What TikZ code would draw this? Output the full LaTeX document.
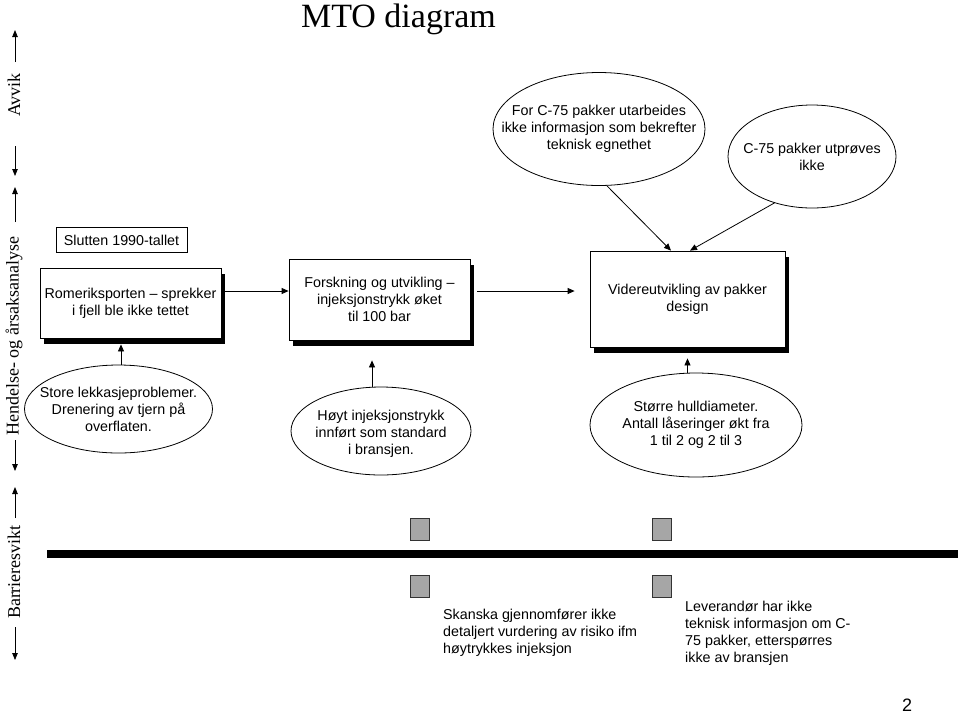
\documentclass[tikz,border=0pt]{standalone}
\usepackage{fontspec}
\setmainfont{Liberation Serif}
\setsansfont{Liberation Sans}
\usetikzlibrary{shapes.geometric,arrows.meta,shadows}
\begin{document}
\begin{tikzpicture}[x=1pt,y=-1pt,
  txt/.style={font=\sffamily\fontsize{14.3}{17}\selectfont, align=center},
  box/.style={draw, line width=0.8pt, fill=white, inner sep=0pt, txt,
     drop shadow={shadow xshift=4pt, shadow yshift=-6pt, opacity=1, fill=black}},
  plainbox/.style={draw, line width=0.8pt, fill=white, inner sep=0pt, txt},
  ell/.style={ellipse, draw, line width=0.8pt, fill=white, inner sep=0pt},
  lbl/.style={txt, inner sep=0pt},
  arr/.style={line width=0.8pt, -{Triangle[length=7pt,width=6pt]}},
  sidearr/.style={line width=0.8pt, -{Triangle[length=7pt,width=5.5pt]}},
  side/.style={font=\fontsize{18}{20}\selectfont, rotate=90, inner sep=0pt},
  sq/.style={draw=black!80, fill=black!35, line width=0.8pt, minimum width=19pt, minimum height=22pt, inner sep=0pt},
]
\fill[white] (0,0) rectangle (960,716);
\useasboundingbox (0,0) rectangle (960,716);

% title
\node[font=\fontsize{34}{40}\selectfont, anchor=base, inner sep=0pt] (title) at (398.5,27) {MTO diagram};

% side labels and arrows
\node[side] (s1) at (14,95) {Avvik};
\node[side] (s2) at (14,336) {Hendelse- og årsaksanalyse};
\node[side] (s3) at (14,572) {Barrieresvikt};
\coordinate (a1s) at (15,62);  \coordinate (a1e) at (15,30);
\coordinate (a2s) at (15,146); \coordinate (a2e) at (15,176);
\coordinate (a3s) at (15,222); \coordinate (a3e) at (15,187);
\coordinate (a4s) at (15,440); \coordinate (a4e) at (15,471);
\coordinate (a5s) at (15,518); \coordinate (a5e) at (15,487);
\coordinate (a6s) at (15,627); \coordinate (a6e) at (15,660);
\draw[sidearr] (a1s) -- (a1e);
\draw[sidearr] (a2s) -- (a2e);
\draw[sidearr] (a3s) -- (a3e);
\draw[sidearr] (a4s) -- (a4e);
\draw[sidearr] (a5s) -- (a5e);
\draw[sidearr] (a6s) -- (a6e);

% boxes
\node[plainbox, minimum width=131pt, minimum height=25pt] (slut) at (121.5,240) {Slutten 1990-tallet};
\node[box, minimum width=181pt, minimum height=70pt] (rom) at (130.5,303) {Romeriksporten -- sprekker\\i fjell ble ikke tettet};
\node[box, minimum width=181pt, minimum height=81pt] (fou) at (379.5,299.5) {Forskning og utvikling --\\injeksjonstrykk øket\\til 100 bar};
\node[box, minimum width=195pt, minimum height=96pt] (vid) at (687.5,299) {Videreutvikling av pakker\\design};

% ellipses
\node[ell, minimum width=212pt, minimum height=113pt,
  label={[lbl]center:{For C-75 pakker utarbeides\\ikke informasjon som bekrefter\\teknisk egnethet}}] (e1) at (599,129) {};
\node[ell, minimum width=168pt, minimum height=103pt,
  label={[lbl]center:{C-75 pakker utprøves\\ikke}}] (e2) at (812,156.5) {};
\node[ell, minimum width=212pt, minimum height=104pt,
  label={[lbl]center:{Større hulldiameter.\\Antall låseringer økt fra\\1 til 2 og 2 til 3}}] (e3) at (696,425) {};
\node[ell, minimum width=188pt, minimum height=88pt,
  label={[lbl]center:{Store lekkasjeproblemer.\\Drenering av tjern på\\overflaten.}}] (e4) at (118.5,409) {};
\node[ell, minimum width=180pt, minimum height=88pt,
  label={[lbl, yshift=-3pt]center:{Høyt injeksjonstrykk\\innført som standard\\i bransjen.}}] (e5) at (381,431) {};

% connectors
\coordinate (ay) at (0,291);
\draw[arr] (rom.east |- ay) -- (fou.west |- ay);
\draw[arr] ([xshift=7pt]fou.east |- ay) -- ([xshift=-15pt]vid.west |- ay);
\draw[arr] ([xshift=8pt]e1.south) -- ([xshift=-16.5pt]vid.north);
\draw[arr] (e2.231) -- ([xshift=2.5pt]vid.north);
\draw[arr] (vid.south |- e3.north) -- ([yshift=-11pt]vid.south);
\draw[arr] ([xshift=2.5pt]e4.north) -- ([xshift=-9.5pt,yshift=-6pt]rom.south);
\draw[arr] ([xshift=-9pt]e5.north) -- ([xshift=-7.5pt,yshift=-20pt]fou.south);

% barrier line and squares
\fill[black] (47,550) rectangle (958,558);
\node[sq] (q1) at (419.5,529) {};
\node[sq] (q2) at (661.5,529) {};
\node[sq] (q3) at (419.5,586) {};
\node[sq] (q4) at (661.5,586) {};

\node[txt, align=left, anchor=north west, inner sep=0pt] (t1) at (443,608.5) {Skanska gjennomfører ikke\\detaljert vurdering av risiko ifm\\høytrykkes injeksjon};
\node[txt, align=left, anchor=north west, inner sep=0pt] (t2) at (685,600.5) {Leverandør har ikke\\teknisk informasjon om C-\\75 pakker, etterspørres\\ikke av bransjen};

% page number
\node[font=\sffamily\fontsize{18}{20}\selectfont, anchor=base, inner sep=0pt] (pg) at (907,711) {2};
\end{tikzpicture}
\end{document}
